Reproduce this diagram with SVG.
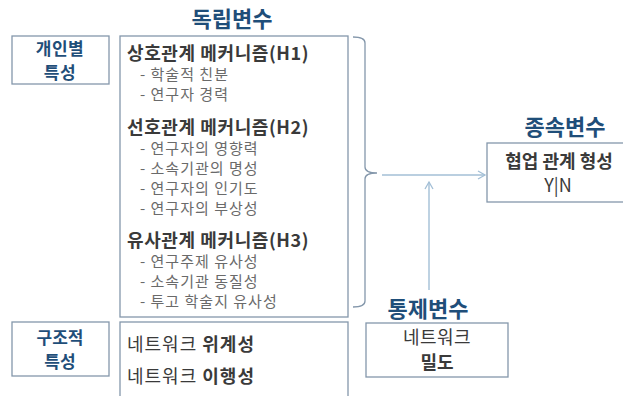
<svg xmlns="http://www.w3.org/2000/svg" width="623" height="396" viewBox="0 0 623 396">
<defs>
<style>
text{font-family:"Noto Sans CJK KR","Noto Sans",sans-serif;}
.box{fill:#fff;stroke:#8497ab;stroke-width:1.3;}
.title{font-size:22px;font-weight:700;fill:#1f4e79;text-anchor:middle;}
.side{font-size:17px;font-weight:700;fill:#1f4e79;text-anchor:middle;}
.head{font-size:18px;font-weight:700;fill:#3a3a3a;letter-spacing:0.6px;}
.item{font-size:15px;fill:#6a6a6a;letter-spacing:1px;}
.body{font-size:18px;fill:#3a3a3a;}
.conn{fill:none;stroke:#a3bfd6;stroke-width:1.4;}
.brace{fill:none;stroke:#8497ab;stroke-width:1.3;}
</style>
<marker id="arr" markerWidth="10" markerHeight="10" refX="8" refY="5" orient="auto" markerUnits="userSpaceOnUse">
<path d="M1,1 L8,5 L1,9" fill="none" stroke="#a3bfd6" stroke-width="1.3"/>
</marker>
</defs>
<rect width="623" height="396" fill="#fff"/>

<text class="title" x="232" y="27">독립변수</text>

<g id="individual">
<rect class="box" x="12" y="36" width="97" height="48"/>
<text class="side" x="60" y="55" font-size="16.5" letter-spacing="0.5">개인별</text>
<text class="side" x="60" y="79" font-size="16.5" letter-spacing="0.5">특성</text>
</g>

<g id="independent">
<rect class="box" x="120" y="36" width="228" height="281"/>
<text class="head" x="127" y="60">상호관계 메커니즘(H1)</text>
<text class="item" x="140" y="80">- 학술적 친분</text>
<text class="item" x="140" y="100">- 연구자 경력</text>
<text class="head" x="127" y="134">선호관계 메커니즘(H2)</text>
<text class="item" x="140" y="154">- 연구자의 영향력</text>
<text class="item" x="140" y="174">- 소속기관의 명성</text>
<text class="item" x="140" y="194">- 연구자의 인기도</text>
<text class="item" x="140" y="214">- 연구자의 부상성</text>
<text class="head" x="127" y="247">유사관계 메커니즘(H3)</text>
<text class="item" x="140" y="267">- 연구주제 유사성</text>
<text class="item" x="140" y="287">- 소속기관 동질성</text>
<text class="item" x="140" y="307">- 투고 학술지 유사성</text>
</g>

<g id="structural">
<rect class="box" x="12" y="322" width="97" height="54"/>
<text class="side" x="60" y="344">구조적</text>
<text class="side" x="60" y="368">특성</text>
</g>

<g id="network">
<rect class="box" x="120" y="322" width="228" height="80"/>
<text class="body" x="127" y="351" letter-spacing="1">네트워크 <tspan font-weight="700">위계성</tspan></text>
<text class="body" x="127" y="383" letter-spacing="1">네트워크 <tspan font-weight="700">이행성</tspan></text>
</g>

<text class="title" x="565" y="135">종속변수</text>
<g id="dependent">
<rect class="box" x="487" y="143" width="140" height="59"/>
<text class="body" x="559" y="168" text-anchor="middle" font-weight="700" font-size="18.5">협업 관계 형성</text>
<text class="body" x="558" y="192" text-anchor="middle">Y|N</text>
</g>

<text class="title" x="428" y="317">통제변수</text>
<g id="control">
<rect class="box" x="366" y="323" width="142" height="54"/>
<text class="body" x="437" y="344" text-anchor="middle" font-size="17" letter-spacing="0.5">네트워크</text>
<text class="body" x="437" y="369" text-anchor="middle" font-size="17" font-weight="700">밀도</text>
</g>

<g id="connectors">
<path class="brace" d="M353,37 Q365,37 365,43 L365,167 Q365,173 377,173 Q365,173 365,179 L365,301 Q365,307 353,307"/>
<path class="conn" d="M382,175 L485,175" marker-end="url(#arr)"/>
<path class="conn" d="M429,290 L429,182" marker-end="url(#arr)"/>
</g>
</svg>
